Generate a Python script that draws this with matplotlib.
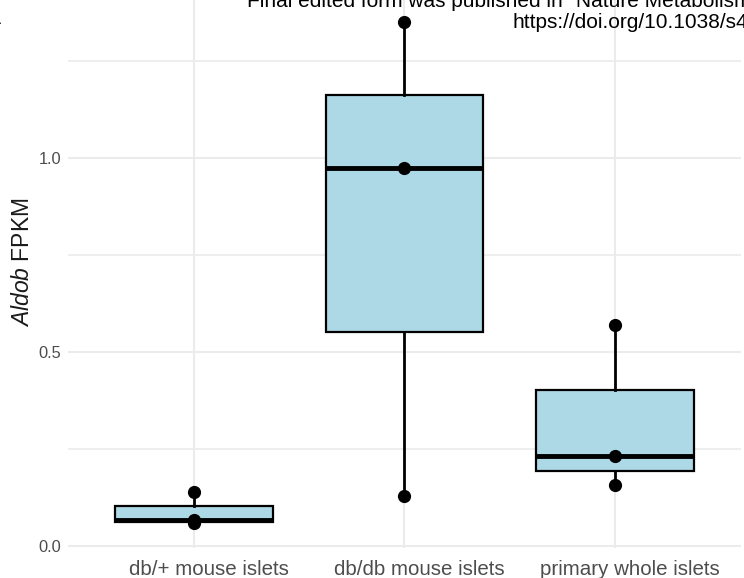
import matplotlib
matplotlib.use("Agg")
import matplotlib.pyplot as plt
import matplotlib.transforms as mtransforms
import numpy as np

plt.rcParams["font.family"] = ["Liberation Sans", "DejaVu Sans"]
plt.rcParams["mathtext.fontset"] = "custom"
plt.rcParams["mathtext.rm"] = "Liberation Sans"
plt.rcParams["mathtext.it"] = "Liberation Sans:italic"

# Aldob expression (FPKM) per sample group
categories = ["db/+ mouse islets", "db/db mouse islets", "primary whole islets"]
db_plus = [0.060, 0.066, 0.140]
db_db = [0.129, 0.974, 1.351]
primary = [0.157, 0.232, 0.570]
groups = [db_plus, db_db, primary]
y_ticks = [0.0, 0.5, 1.0]
y_tick_labels = ["0.0", "0.5", "1.0"]

W, H = 744, 578
fig = plt.figure(figsize=(W / 100, H / 100), dpi=100)

# panel placed in pixel terms
px_left, px_right = 67.7, 741.3
px_bottom, px_top = 547.8, -3.3
ax = fig.add_axes([px_left / W, (H - px_bottom) / H,
                   (px_right - px_left) / W, (px_bottom - px_top) / H])

positions = np.arange(1, len(categories) + 1)
grid_col = "#EBEBEB"

allv = np.concatenate(groups)
rng = allv.max() - allv.min()
ax.set_ylim(allv.min() - 0.05 * rng, allv.max() + 0.05 * rng)
ax.set_xlim(0.4, len(categories) + 0.6)

# grid
for y in [0.0, 0.5, 1.0]:
    ax.axhline(y, color=grid_col, lw=1.5, zorder=0)
for y in [0.25, 0.75, 1.25]:
    ax.axhline(y, color=grid_col, lw=1.2, zorder=0)
for x in positions:
    ax.axvline(x, color=grid_col, lw=1.5, zorder=0)

ax.boxplot(groups, positions=positions, widths=0.75, patch_artist=True,
           showcaps=False, showfliers=False, whis=1.5,
           boxprops=dict(facecolor="#ADD8E6", edgecolor="black", linewidth=1.6),
           whiskerprops=dict(color="black", linewidth=2.0),
           medianprops=dict(color="black", linewidth=3.5, solid_capstyle="butt"),
           zorder=2)

for pos, vals in zip(positions, groups):
    ax.plot([pos] * len(vals), vals, "o", color="black", ms=9.5, zorder=3,
            markeredgewidth=0)

for s in ax.spines.values():
    s.set_visible(False)
ax.set_yticks(y_ticks)
ax.set_yticklabels(y_tick_labels)
ax.set_xticks(positions)
ax.set_xticklabels(categories)
ax.tick_params(axis="y", length=0, pad=4.5, labelsize=11.8, labelcolor="#4D4D4D")
ax.tick_params(axis="x", length=0, pad=9, labelsize=14.8, labelcolor="#4D4D4D")
ax.set_facecolor("white")

# category labels sit slightly right of their boxes
shift = mtransforms.ScaledTranslation(15 / 100, 0, fig.dpi_scale_trans)
for lab in ax.get_xticklabels():
    lab.set_transform(lab.get_transform() + shift)

fig.text(23 / W, 1 - 262 / H, r"$\mathit{Aldob}$ FPKM", rotation=90,
         ha="center", va="center", fontsize=16.5, color="#1A1A1A")

# header lines at the top of the page
fig.text(247 / W, 1 - 7 / H,
         'Final edited form was published in "Nature Metabolism". 2021; 3: 1291-1304.',
         ha="left", va="baseline", fontsize=15, color="black")
fig.text(512 / W, 1 - 28 / H, "https://doi.org/10.1038/s42255-021-00454-x",
         ha="left", va="baseline", fontsize=15, color="black")
fig.text(0.8 / W, 1 - 24 / H, "A", ha="right", va="baseline", fontsize=14,
         color="black")

fig.savefig("out.png", dpi=100)
